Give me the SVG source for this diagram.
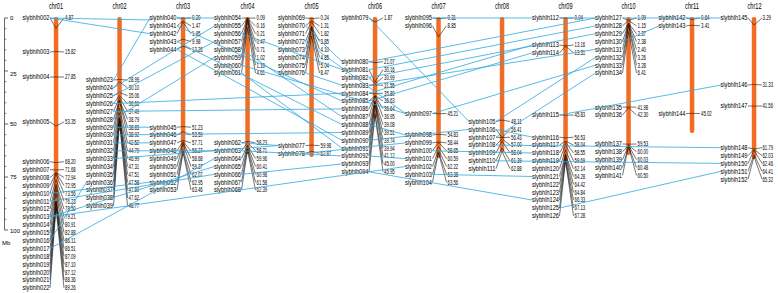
<svg xmlns="http://www.w3.org/2000/svg" width="778" height="293" viewBox="0 0 778 293">
<style>
text{font-family:"Liberation Sans",Arial,sans-serif;fill:#000}
.t{font-size:9px}
.n{font-size:6.5px;text-anchor:end}
.p{font-size:6.5px}
.a{font-size:6px}
.bar{fill:#F26C21}
.g{fill:none;stroke:#1a1a1a;stroke-width:0.6}
.c{fill:none;stroke:#2DA8E0;stroke-width:0.8}
</style>
<rect width="778" height="293" fill="#fff"/>
<g id="axis">
<path d="M4.5 18V230M4.5 18H8M4.5 71H8M4.5 124H8M4.5 177H8M4.5 230H8" stroke="#222" stroke-width="0.7" fill="none"/>
<path d="M4.5 28.6H6.5M4.5 39.2H6.5M4.5 49.8H6.5M4.5 60.4H6.5M4.5 81.6H6.5M4.5 92.2H6.5M4.5 102.8H6.5M4.5 113.4H6.5M4.5 134.6H6.5M4.5 145.2H6.5M4.5 155.8H6.5M4.5 166.4H6.5M4.5 187.6H6.5M4.5 198.2H6.5M4.5 208.8H6.5M4.5 219.4H6.5" stroke="#222" stroke-width="0.5" fill="none"/>
<text class="a" x="10" y="20">0</text>
<text class="a" x="10" y="76">25</text>
<text class="a" x="10" y="126">50</text>
<text class="a" x="10" y="179">75</text>
<text class="a" x="10" y="233">100</text>
<text class="a" x="2" y="245">Mb</text>
</g>
<g id="chr01">
<text class="t" x="49" y="8.5" textLength="14" lengthAdjust="spacingAndGlyphs">chr01</text>
<rect class="bar" x="53.8" y="17" width="4.5" height="194" rx="2"/>
<path class="g" d="M50 18L56 28.3L64 18M50 52L56 51.5L64 52M50 77L56 77L64 77M50 122L56 126L64 122M50 161.7L56 162.6L64 161.7M50 169.6L56 170L64 169.6M50 177.5L56 172.6L64 177.5M50 185.4L56 172.6L64 185.4M50 193.3L56 174L64 193.3M50 201.2L56 179.6L64 201.2M50 209L56 184.4L64 209M50 216.9L56 185.9L64 216.9M50 224.8L56 189.5L64 224.8M50 232.7L56 193.7L64 232.7M50 240.6L56 200.6L64 240.6M50 248.5L56 201.4L64 248.5M50 256.4L56 202.6L64 256.4M50 264.3L56 202.7L64 264.3M50 272.2L56 202.7L64 272.2M50 280.1L56 205.3L64 280.1M50 288L56 207.2L64 288"/>
<text class="n" x="49.5" y="20.3" textLength="27" lengthAdjust="spacingAndGlyphs">slybhlh002</text>
<text class="n" x="49.5" y="54.3" textLength="27" lengthAdjust="spacingAndGlyphs">slybhlh003</text>
<text class="n" x="49.5" y="79.3" textLength="27" lengthAdjust="spacingAndGlyphs">slybhlh004</text>
<text class="n" x="49.5" y="124.3" textLength="27" lengthAdjust="spacingAndGlyphs">slybhlh005</text>
<text class="n" x="49.5" y="164" textLength="27" lengthAdjust="spacingAndGlyphs">slybhlh006</text>
<text class="n" x="49.5" y="171.9" textLength="27" lengthAdjust="spacingAndGlyphs">slybhlh007</text>
<text class="n" x="49.5" y="179.8" textLength="27" lengthAdjust="spacingAndGlyphs">slybhlh008</text>
<text class="n" x="49.5" y="187.7" textLength="27" lengthAdjust="spacingAndGlyphs">slybhlh009</text>
<text class="n" x="49.5" y="195.6" textLength="27" lengthAdjust="spacingAndGlyphs">slybhlh010</text>
<text class="n" x="49.5" y="203.5" textLength="27" lengthAdjust="spacingAndGlyphs">slybhlh011</text>
<text class="n" x="49.5" y="211.3" textLength="27" lengthAdjust="spacingAndGlyphs">slybhlh012</text>
<text class="n" x="49.5" y="219.2" textLength="27" lengthAdjust="spacingAndGlyphs">slybhlh013</text>
<text class="n" x="49.5" y="227.1" textLength="27" lengthAdjust="spacingAndGlyphs">slybhlh014</text>
<text class="n" x="49.5" y="235" textLength="27" lengthAdjust="spacingAndGlyphs">slybhlh015</text>
<text class="n" x="49.5" y="242.9" textLength="27" lengthAdjust="spacingAndGlyphs">slybhlh016</text>
<text class="n" x="49.5" y="250.8" textLength="27" lengthAdjust="spacingAndGlyphs">slybhlh017</text>
<text class="n" x="49.5" y="258.7" textLength="27" lengthAdjust="spacingAndGlyphs">slybhlh018</text>
<text class="n" x="49.5" y="266.6" textLength="27" lengthAdjust="spacingAndGlyphs">slybhlh019</text>
<text class="n" x="49.5" y="274.5" textLength="27" lengthAdjust="spacingAndGlyphs">slybhlh020</text>
<text class="n" x="49.5" y="282.4" textLength="27" lengthAdjust="spacingAndGlyphs">slybhlh021</text>
<text class="n" x="49.5" y="290.3" textLength="27" lengthAdjust="spacingAndGlyphs">slybhlh022</text>
<text class="p" x="65" y="20.3" textLength="8.5" lengthAdjust="spacingAndGlyphs">4.87</text>
<text class="p" x="65" y="54.3" textLength="10.7" lengthAdjust="spacingAndGlyphs">15.82</text>
<text class="p" x="65" y="79.3" textLength="10.7" lengthAdjust="spacingAndGlyphs">27.85</text>
<text class="p" x="65" y="124.3" textLength="10.7" lengthAdjust="spacingAndGlyphs">53.35</text>
<text class="p" x="65" y="164" textLength="10.7" lengthAdjust="spacingAndGlyphs">68.20</text>
<text class="p" x="65" y="171.9" textLength="10.7" lengthAdjust="spacingAndGlyphs">71.68</text>
<text class="p" x="65" y="179.8" textLength="10.7" lengthAdjust="spacingAndGlyphs">72.94</text>
<text class="p" x="65" y="187.7" textLength="10.7" lengthAdjust="spacingAndGlyphs">72.95</text>
<text class="p" x="65" y="195.6" textLength="10.7" lengthAdjust="spacingAndGlyphs">73.56</text>
<text class="p" x="65" y="203.5" textLength="10.7" lengthAdjust="spacingAndGlyphs">76.23</text>
<text class="p" x="65" y="211.3" textLength="10.7" lengthAdjust="spacingAndGlyphs">78.50</text>
<text class="p" x="65" y="219.2" textLength="10.7" lengthAdjust="spacingAndGlyphs">79.21</text>
<text class="p" x="65" y="227.1" textLength="10.7" lengthAdjust="spacingAndGlyphs">80.91</text>
<text class="p" x="65" y="235" textLength="10.7" lengthAdjust="spacingAndGlyphs">82.88</text>
<text class="p" x="65" y="242.9" textLength="10.7" lengthAdjust="spacingAndGlyphs">86.11</text>
<text class="p" x="65" y="250.8" textLength="10.7" lengthAdjust="spacingAndGlyphs">86.51</text>
<text class="p" x="65" y="258.7" textLength="10.7" lengthAdjust="spacingAndGlyphs">87.09</text>
<text class="p" x="65" y="266.6" textLength="10.7" lengthAdjust="spacingAndGlyphs">87.10</text>
<text class="p" x="65" y="274.5" textLength="10.7" lengthAdjust="spacingAndGlyphs">87.12</text>
<text class="p" x="65" y="282.4" textLength="10.7" lengthAdjust="spacingAndGlyphs">88.36</text>
<text class="p" x="65" y="290.3" textLength="10.7" lengthAdjust="spacingAndGlyphs">89.26</text>
</g>
<g id="chr02">
<text class="t" x="112.5" y="8.5" textLength="14" lengthAdjust="spacingAndGlyphs">chr02</text>
<rect class="bar" x="117.3" y="17" width="4.5" height="114" rx="2"/>
<path class="g" d="M113.5 80L119.5 79.5L127.5 80M113.5 87.9L119.5 81.8L127.5 87.9M113.5 95.7L119.5 92.3L127.5 95.7M113.5 103.6L119.5 95.6L127.5 103.6M113.5 111.4L119.5 97.5L127.5 111.4M113.5 119.3L119.5 100.2L127.5 119.3M113.5 127.2L119.5 100.3L127.5 127.2M113.5 135L119.5 100.5L127.5 135M113.5 142.9L119.5 108.1L127.5 142.9M113.5 150.8L119.5 113L127.5 150.8M113.5 158.6L119.5 117.6L127.5 158.6M113.5 166.5L119.5 118.3L127.5 166.5M113.5 174.3L119.5 118.7L127.5 174.3M113.5 182.2L119.5 118.9L127.5 182.2M113.5 190L119.5 118.9L127.5 190M113.5 197.9L119.5 119L127.5 197.9M113.5 205.8L119.5 121.4L127.5 205.8"/>
<text class="n" x="113" y="82.3" textLength="27" lengthAdjust="spacingAndGlyphs">slybhlh023</text>
<text class="n" x="113" y="90.2" textLength="27" lengthAdjust="spacingAndGlyphs">slybhlh024</text>
<text class="n" x="113" y="98" textLength="27" lengthAdjust="spacingAndGlyphs">slybhlh025</text>
<text class="n" x="113" y="105.9" textLength="27" lengthAdjust="spacingAndGlyphs">slybhlh026</text>
<text class="n" x="113" y="113.7" textLength="27" lengthAdjust="spacingAndGlyphs">slybhlh027</text>
<text class="n" x="113" y="121.6" textLength="27" lengthAdjust="spacingAndGlyphs">slybhlh028</text>
<text class="n" x="113" y="129.5" textLength="27" lengthAdjust="spacingAndGlyphs">slybhlh029</text>
<text class="n" x="113" y="137.3" textLength="27" lengthAdjust="spacingAndGlyphs">slybhlh030</text>
<text class="n" x="113" y="145.2" textLength="27" lengthAdjust="spacingAndGlyphs">slybhlh031</text>
<text class="n" x="113" y="153.1" textLength="27" lengthAdjust="spacingAndGlyphs">slybhlh032</text>
<text class="n" x="113" y="160.9" textLength="27" lengthAdjust="spacingAndGlyphs">slybhlh033</text>
<text class="n" x="113" y="168.8" textLength="27" lengthAdjust="spacingAndGlyphs">slybhlh034</text>
<text class="n" x="113" y="176.6" textLength="27" lengthAdjust="spacingAndGlyphs">slybhlh035</text>
<text class="n" x="113" y="184.5" textLength="27" lengthAdjust="spacingAndGlyphs">slybhlh036</text>
<text class="n" x="113" y="192.3" textLength="27" lengthAdjust="spacingAndGlyphs">slybhlh037</text>
<text class="n" x="113" y="200.2" textLength="27" lengthAdjust="spacingAndGlyphs">slybhlh038</text>
<text class="n" x="113" y="208.1" textLength="27" lengthAdjust="spacingAndGlyphs">slybhlh039</text>
<text class="p" x="128.5" y="82.3" textLength="10.7" lengthAdjust="spacingAndGlyphs">28.99</text>
<text class="p" x="128.5" y="90.2" textLength="10.7" lengthAdjust="spacingAndGlyphs">30.10</text>
<text class="p" x="128.5" y="98" textLength="10.7" lengthAdjust="spacingAndGlyphs">35.06</text>
<text class="p" x="128.5" y="105.9" textLength="10.7" lengthAdjust="spacingAndGlyphs">36.61</text>
<text class="p" x="128.5" y="113.7" textLength="10.7" lengthAdjust="spacingAndGlyphs">37.49</text>
<text class="p" x="128.5" y="121.6" textLength="10.7" lengthAdjust="spacingAndGlyphs">38.79</text>
<text class="p" x="128.5" y="129.5" textLength="10.7" lengthAdjust="spacingAndGlyphs">38.83</text>
<text class="p" x="128.5" y="137.3" textLength="10.7" lengthAdjust="spacingAndGlyphs">38.92</text>
<text class="p" x="128.5" y="145.2" textLength="10.7" lengthAdjust="spacingAndGlyphs">42.52</text>
<text class="p" x="128.5" y="153.1" textLength="10.7" lengthAdjust="spacingAndGlyphs">44.79</text>
<text class="p" x="128.5" y="160.9" textLength="10.7" lengthAdjust="spacingAndGlyphs">46.99</text>
<text class="p" x="128.5" y="168.8" textLength="10.7" lengthAdjust="spacingAndGlyphs">47.31</text>
<text class="p" x="128.5" y="176.6" textLength="10.7" lengthAdjust="spacingAndGlyphs">47.51</text>
<text class="p" x="128.5" y="184.5" textLength="10.7" lengthAdjust="spacingAndGlyphs">47.58</text>
<text class="p" x="128.5" y="192.3" textLength="10.7" lengthAdjust="spacingAndGlyphs">47.60</text>
<text class="p" x="128.5" y="200.2" textLength="10.7" lengthAdjust="spacingAndGlyphs">47.62</text>
<text class="p" x="128.5" y="208.1" textLength="10.7" lengthAdjust="spacingAndGlyphs">48.77</text>
</g>
<g id="chr03">
<text class="t" x="176" y="8.5" textLength="14" lengthAdjust="spacingAndGlyphs">chr03</text>
<rect class="bar" x="180.8" y="17" width="4.5" height="137" rx="2"/>
<path class="g" d="M177 18L183 18.4L191 18M177 25.9L183 21.1L191 25.9M177 33.7L183 22.1L191 33.7M177 41.6L183 39.2L191 41.6M177 49.4L183 46.1L191 49.4M177 127.2L183 126.6L191 127.2M177 135L183 131.6L191 135M177 142.9L183 140.3L191 142.9M177 150.8L183 141.5L191 150.8M177 158.6L183 142.4L191 158.6M177 166.5L183 143.9L191 166.5M177 174.3L183 149.6L191 174.3M177 182.2L183 151.5L191 182.2M177 190L183 152.5L191 190"/>
<text class="n" x="176.5" y="20.3" textLength="27" lengthAdjust="spacingAndGlyphs">slybhlh040</text>
<text class="n" x="176.5" y="28.2" textLength="27" lengthAdjust="spacingAndGlyphs">slybhlh041</text>
<text class="n" x="176.5" y="36" textLength="27" lengthAdjust="spacingAndGlyphs">slybhlh042</text>
<text class="n" x="176.5" y="43.9" textLength="27" lengthAdjust="spacingAndGlyphs">slybhlh043</text>
<text class="n" x="176.5" y="51.7" textLength="27" lengthAdjust="spacingAndGlyphs">slybhlh044</text>
<text class="n" x="176.5" y="129.5" textLength="27" lengthAdjust="spacingAndGlyphs">slybhlh045</text>
<text class="n" x="176.5" y="137.3" textLength="27" lengthAdjust="spacingAndGlyphs">slybhlh046</text>
<text class="n" x="176.5" y="145.2" textLength="27" lengthAdjust="spacingAndGlyphs">slybhlh047</text>
<text class="n" x="176.5" y="153.1" textLength="27" lengthAdjust="spacingAndGlyphs">slybhlh048</text>
<text class="n" x="176.5" y="160.9" textLength="27" lengthAdjust="spacingAndGlyphs">slybhlh049</text>
<text class="n" x="176.5" y="168.8" textLength="27" lengthAdjust="spacingAndGlyphs">slybhlh050</text>
<text class="n" x="176.5" y="176.6" textLength="27" lengthAdjust="spacingAndGlyphs">slybhlh051</text>
<text class="n" x="176.5" y="184.5" textLength="27" lengthAdjust="spacingAndGlyphs">slybhlh052</text>
<text class="n" x="176.5" y="192.3" textLength="27" lengthAdjust="spacingAndGlyphs">slybhlh053</text>
<text class="p" x="192" y="20.3" textLength="8.5" lengthAdjust="spacingAndGlyphs">0.20</text>
<text class="p" x="192" y="28.2" textLength="8.5" lengthAdjust="spacingAndGlyphs">1.47</text>
<text class="p" x="192" y="36" textLength="8.5" lengthAdjust="spacingAndGlyphs">1.95</text>
<text class="p" x="192" y="43.9" textLength="8.5" lengthAdjust="spacingAndGlyphs">9.98</text>
<text class="p" x="192" y="51.7" textLength="10.7" lengthAdjust="spacingAndGlyphs">13.26</text>
<text class="p" x="192" y="129.5" textLength="10.7" lengthAdjust="spacingAndGlyphs">51.23</text>
<text class="p" x="192" y="137.3" textLength="10.7" lengthAdjust="spacingAndGlyphs">53.59</text>
<text class="p" x="192" y="145.2" textLength="10.7" lengthAdjust="spacingAndGlyphs">57.71</text>
<text class="p" x="192" y="153.1" textLength="10.7" lengthAdjust="spacingAndGlyphs">58.27</text>
<text class="p" x="192" y="160.9" textLength="10.7" lengthAdjust="spacingAndGlyphs">58.68</text>
<text class="p" x="192" y="168.8" textLength="10.7" lengthAdjust="spacingAndGlyphs">59.37</text>
<text class="p" x="192" y="176.6" textLength="10.7" lengthAdjust="spacingAndGlyphs">62.07</text>
<text class="p" x="192" y="184.5" textLength="10.7" lengthAdjust="spacingAndGlyphs">62.95</text>
<text class="p" x="192" y="192.3" textLength="10.7" lengthAdjust="spacingAndGlyphs">63.46</text>
</g>
<g id="chr04">
<text class="t" x="240.5" y="8.5" textLength="14" lengthAdjust="spacingAndGlyphs">chr04</text>
<rect class="bar" x="245.3" y="17" width="4.5" height="137" rx="2"/>
<path class="g" d="M241.5 18L247.5 18.2L255.5 18M241.5 25.9L247.5 18.3L255.5 25.9M241.5 33.7L247.5 18.4L255.5 33.7M241.5 41.6L247.5 19L255.5 41.6M241.5 49.4L247.5 19.5L255.5 49.4M241.5 57.3L247.5 20.2L255.5 57.3M241.5 65.2L247.5 20.3L255.5 65.2M241.5 73L247.5 27.8L255.5 73M241.5 142.9L247.5 141.4L255.5 142.9M241.5 150.8L247.5 142.5L255.5 150.8M241.5 158.6L247.5 145.1L255.5 158.6M241.5 166.5L247.5 146.1L255.5 166.5M241.5 174.3L247.5 147.3L255.5 174.3M241.5 182.2L247.5 148.5L255.5 182.2M241.5 190L247.5 150.3L255.5 190"/>
<text class="n" x="241" y="20.3" textLength="27" lengthAdjust="spacingAndGlyphs">slybhlh054</text>
<text class="n" x="241" y="28.2" textLength="27" lengthAdjust="spacingAndGlyphs">slybhlh055</text>
<text class="n" x="241" y="36" textLength="27" lengthAdjust="spacingAndGlyphs">slybhlh056</text>
<text class="n" x="241" y="43.9" textLength="27" lengthAdjust="spacingAndGlyphs">slybhlh057</text>
<text class="n" x="241" y="51.7" textLength="27" lengthAdjust="spacingAndGlyphs">slybhlh058</text>
<text class="n" x="241" y="59.6" textLength="27" lengthAdjust="spacingAndGlyphs">slybhlh059</text>
<text class="n" x="241" y="67.5" textLength="27" lengthAdjust="spacingAndGlyphs">slybhlh060</text>
<text class="n" x="241" y="75.3" textLength="27" lengthAdjust="spacingAndGlyphs">slybhlh061</text>
<text class="n" x="241" y="145.2" textLength="27" lengthAdjust="spacingAndGlyphs">slybhlh062</text>
<text class="n" x="241" y="153.1" textLength="27" lengthAdjust="spacingAndGlyphs">slybhlh063</text>
<text class="n" x="241" y="160.9" textLength="27" lengthAdjust="spacingAndGlyphs">slybhlh064</text>
<text class="n" x="241" y="168.8" textLength="27" lengthAdjust="spacingAndGlyphs">slybhlh065</text>
<text class="n" x="241" y="176.6" textLength="27" lengthAdjust="spacingAndGlyphs">slybhlh066</text>
<text class="n" x="241" y="184.5" textLength="27" lengthAdjust="spacingAndGlyphs">slybhlh067</text>
<text class="n" x="241" y="192.3" textLength="27" lengthAdjust="spacingAndGlyphs">slybhlh068</text>
<text class="p" x="256.5" y="20.3" textLength="8.5" lengthAdjust="spacingAndGlyphs">0.09</text>
<text class="p" x="256.5" y="28.2" textLength="8.5" lengthAdjust="spacingAndGlyphs">0.16</text>
<text class="p" x="256.5" y="36" textLength="8.5" lengthAdjust="spacingAndGlyphs">0.21</text>
<text class="p" x="256.5" y="43.9" textLength="8.5" lengthAdjust="spacingAndGlyphs">0.47</text>
<text class="p" x="256.5" y="51.7" textLength="8.5" lengthAdjust="spacingAndGlyphs">0.71</text>
<text class="p" x="256.5" y="59.6" textLength="8.5" lengthAdjust="spacingAndGlyphs">1.02</text>
<text class="p" x="256.5" y="67.5" textLength="8.5" lengthAdjust="spacingAndGlyphs">1.10</text>
<text class="p" x="256.5" y="75.3" textLength="8.5" lengthAdjust="spacingAndGlyphs">4.61</text>
<text class="p" x="256.5" y="145.2" textLength="10.7" lengthAdjust="spacingAndGlyphs">58.23</text>
<text class="p" x="256.5" y="153.1" textLength="10.7" lengthAdjust="spacingAndGlyphs">58.71</text>
<text class="p" x="256.5" y="160.9" textLength="10.7" lengthAdjust="spacingAndGlyphs">59.96</text>
<text class="p" x="256.5" y="168.8" textLength="10.7" lengthAdjust="spacingAndGlyphs">60.41</text>
<text class="p" x="256.5" y="176.6" textLength="10.7" lengthAdjust="spacingAndGlyphs">60.98</text>
<text class="p" x="256.5" y="184.5" textLength="10.7" lengthAdjust="spacingAndGlyphs">61.58</text>
<text class="p" x="256.5" y="192.3" textLength="10.7" lengthAdjust="spacingAndGlyphs">62.39</text>
</g>
<g id="chr05">
<text class="t" x="304.5" y="8.5" textLength="14" lengthAdjust="spacingAndGlyphs">chr05</text>
<rect class="bar" x="309.3" y="17" width="4.5" height="140" rx="2"/>
<path class="g" d="M305.5 18L311.5 18.5L319.5 18M305.5 25.9L311.5 20.8L319.5 25.9M305.5 33.7L311.5 21.9L319.5 33.7M305.5 41.6L311.5 26.2L319.5 41.6M305.5 49.4L311.5 26.7L319.5 49.4M305.5 57.3L311.5 28.3L319.5 57.3M305.5 65.2L311.5 28.7L319.5 65.2M305.5 73L311.5 36L319.5 73M305.5 145.5L311.5 145.2L319.5 145.5M305.5 153.3L311.5 151.3L319.5 153.3"/>
<text class="n" x="305" y="20.3" textLength="27" lengthAdjust="spacingAndGlyphs">slybhlh069</text>
<text class="n" x="305" y="28.2" textLength="27" lengthAdjust="spacingAndGlyphs">slybhlh070</text>
<text class="n" x="305" y="36" textLength="27" lengthAdjust="spacingAndGlyphs">slybhlh071</text>
<text class="n" x="305" y="43.9" textLength="27" lengthAdjust="spacingAndGlyphs">slybhlh072</text>
<text class="n" x="305" y="51.7" textLength="27" lengthAdjust="spacingAndGlyphs">slybhlh073</text>
<text class="n" x="305" y="59.6" textLength="27" lengthAdjust="spacingAndGlyphs">slybhlh074</text>
<text class="n" x="305" y="67.5" textLength="27" lengthAdjust="spacingAndGlyphs">slybhlh075</text>
<text class="n" x="305" y="75.3" textLength="27" lengthAdjust="spacingAndGlyphs">slybhlh076</text>
<text class="n" x="305" y="147.8" textLength="27" lengthAdjust="spacingAndGlyphs">slybhlh077</text>
<text class="n" x="305" y="155.6" textLength="27" lengthAdjust="spacingAndGlyphs">slybhlh078</text>
<text class="p" x="320.5" y="20.3" textLength="8.5" lengthAdjust="spacingAndGlyphs">0.24</text>
<text class="p" x="320.5" y="28.2" textLength="8.5" lengthAdjust="spacingAndGlyphs">1.31</text>
<text class="p" x="320.5" y="36" textLength="8.5" lengthAdjust="spacingAndGlyphs">1.82</text>
<text class="p" x="320.5" y="43.9" textLength="8.5" lengthAdjust="spacingAndGlyphs">3.85</text>
<text class="p" x="320.5" y="51.7" textLength="8.5" lengthAdjust="spacingAndGlyphs">4.10</text>
<text class="p" x="320.5" y="59.6" textLength="8.5" lengthAdjust="spacingAndGlyphs">4.85</text>
<text class="p" x="320.5" y="67.5" textLength="8.5" lengthAdjust="spacingAndGlyphs">5.04</text>
<text class="p" x="320.5" y="75.3" textLength="8.5" lengthAdjust="spacingAndGlyphs">8.47</text>
<text class="p" x="320.5" y="147.8" textLength="10.7" lengthAdjust="spacingAndGlyphs">59.98</text>
<text class="p" x="320.5" y="155.6" textLength="10.7" lengthAdjust="spacingAndGlyphs">62.87</text>
</g>
<g id="chr06">
<text class="t" x="368" y="8.5" textLength="14" lengthAdjust="spacingAndGlyphs">chr06</text>
<rect class="bar" x="372.8" y="17" width="4.5" height="101" rx="2"/>
<path class="g" d="M369 18L375 22L383 18M369 61.7L375 62.7L383 61.7M369 69.6L375 82L383 69.6M369 77.4L375 83.7L383 77.4M369 85.3L375 84.9L383 85.3M369 93.2L375 93.9L383 93.2M369 101L375 95.7L383 101M369 108.9L375 95.7L383 108.9M369 116.8L375 96.3L383 116.8M369 124.6L375 100.8L383 124.6M369 132.5L375 101.8L383 132.5M369 140.3L375 102.2L383 140.3M369 148.2L375 102.7L383 148.2M369 156L375 105.2L383 156M369 163.9L375 113.4L383 163.9M369 171.8L375 115.4L383 171.8"/>
<text class="n" x="368.5" y="20.3" textLength="27" lengthAdjust="spacingAndGlyphs">slybhlh079</text>
<text class="n" x="368.5" y="64" textLength="27" lengthAdjust="spacingAndGlyphs">slybhlh080</text>
<text class="n" x="368.5" y="71.9" textLength="27" lengthAdjust="spacingAndGlyphs">slybhlh081</text>
<text class="n" x="368.5" y="79.7" textLength="27" lengthAdjust="spacingAndGlyphs">slybhlh082</text>
<text class="n" x="368.5" y="87.6" textLength="27" lengthAdjust="spacingAndGlyphs">slybhlh083</text>
<text class="n" x="368.5" y="95.5" textLength="27" lengthAdjust="spacingAndGlyphs">slybhlh084</text>
<text class="n" x="368.5" y="103.3" textLength="27" lengthAdjust="spacingAndGlyphs">slybhlh085</text>
<text class="n" x="368.5" y="111.2" textLength="27" lengthAdjust="spacingAndGlyphs">slybhlh086</text>
<text class="n" x="368.5" y="119.1" textLength="27" lengthAdjust="spacingAndGlyphs">slybhlh087</text>
<text class="n" x="368.5" y="126.9" textLength="27" lengthAdjust="spacingAndGlyphs">slybhlh088</text>
<text class="n" x="368.5" y="134.8" textLength="27" lengthAdjust="spacingAndGlyphs">slybhlh089</text>
<text class="n" x="368.5" y="142.6" textLength="27" lengthAdjust="spacingAndGlyphs">slybhlh090</text>
<text class="n" x="368.5" y="150.5" textLength="27" lengthAdjust="spacingAndGlyphs">slybhlh091</text>
<text class="n" x="368.5" y="158.3" textLength="27" lengthAdjust="spacingAndGlyphs">slybhlh092</text>
<text class="n" x="368.5" y="166.2" textLength="27" lengthAdjust="spacingAndGlyphs">slybhlh093</text>
<text class="n" x="368.5" y="174.1" textLength="27" lengthAdjust="spacingAndGlyphs">slybhlh094</text>
<text class="p" x="384" y="20.3" textLength="8.5" lengthAdjust="spacingAndGlyphs">1.87</text>
<text class="p" x="384" y="64" textLength="10.7" lengthAdjust="spacingAndGlyphs">21.07</text>
<text class="p" x="384" y="71.9" textLength="10.7" lengthAdjust="spacingAndGlyphs">30.16</text>
<text class="p" x="384" y="79.7" textLength="10.7" lengthAdjust="spacingAndGlyphs">30.99</text>
<text class="p" x="384" y="87.6" textLength="10.7" lengthAdjust="spacingAndGlyphs">31.55</text>
<text class="p" x="384" y="95.5" textLength="10.7" lengthAdjust="spacingAndGlyphs">35.80</text>
<text class="p" x="384" y="103.3" textLength="10.7" lengthAdjust="spacingAndGlyphs">36.63</text>
<text class="p" x="384" y="111.2" textLength="10.7" lengthAdjust="spacingAndGlyphs">36.64</text>
<text class="p" x="384" y="119.1" textLength="10.7" lengthAdjust="spacingAndGlyphs">36.95</text>
<text class="p" x="384" y="126.9" textLength="10.7" lengthAdjust="spacingAndGlyphs">39.08</text>
<text class="p" x="384" y="134.8" textLength="10.7" lengthAdjust="spacingAndGlyphs">39.51</text>
<text class="p" x="384" y="142.6" textLength="10.7" lengthAdjust="spacingAndGlyphs">39.74</text>
<text class="p" x="384" y="150.5" textLength="10.7" lengthAdjust="spacingAndGlyphs">39.94</text>
<text class="p" x="384" y="158.3" textLength="10.7" lengthAdjust="spacingAndGlyphs">41.12</text>
<text class="p" x="384" y="166.2" textLength="10.7" lengthAdjust="spacingAndGlyphs">45.00</text>
<text class="p" x="384" y="174.1" textLength="10.7" lengthAdjust="spacingAndGlyphs">45.95</text>
</g>
<g id="chr07">
<text class="t" x="431.5" y="8.5" textLength="14" lengthAdjust="spacingAndGlyphs">chr07</text>
<rect class="bar" x="436.3" y="17" width="4.5" height="141" rx="2"/>
<path class="g" d="M432.5 18L438.5 18.7L446.5 18M432.5 25.9L438.5 36.8L446.5 25.9M432.5 113.5L438.5 113.8L446.5 113.5M432.5 135L438.5 134.2L446.5 135M432.5 142.9L438.5 141.9L446.5 142.9M432.5 150.8L438.5 142.3L446.5 150.8M432.5 158.6L438.5 146.5L446.5 158.6M432.5 166.5L438.5 149.9L446.5 166.5M432.5 174.3L438.5 152.4L446.5 174.3M432.5 182.2L438.5 152.8L446.5 182.2"/>
<text class="n" x="432" y="20.3" textLength="27" lengthAdjust="spacingAndGlyphs">slybhlh095</text>
<text class="n" x="432" y="28.2" textLength="27" lengthAdjust="spacingAndGlyphs">slybhlh096</text>
<text class="n" x="432" y="115.8" textLength="27" lengthAdjust="spacingAndGlyphs">slybhlh097</text>
<text class="n" x="432" y="137.3" textLength="27" lengthAdjust="spacingAndGlyphs">slybhlh098</text>
<text class="n" x="432" y="145.2" textLength="27" lengthAdjust="spacingAndGlyphs">slybhlh099</text>
<text class="n" x="432" y="153.1" textLength="27" lengthAdjust="spacingAndGlyphs">slybhlh100</text>
<text class="n" x="432" y="160.9" textLength="27" lengthAdjust="spacingAndGlyphs">slybhlh101</text>
<text class="n" x="432" y="168.8" textLength="27" lengthAdjust="spacingAndGlyphs">slybhlh102</text>
<text class="n" x="432" y="176.6" textLength="27" lengthAdjust="spacingAndGlyphs">slybhlh103</text>
<text class="n" x="432" y="184.5" textLength="27" lengthAdjust="spacingAndGlyphs">slybhlh104</text>
<text class="p" x="447.5" y="20.3" textLength="8.5" lengthAdjust="spacingAndGlyphs">0.31</text>
<text class="p" x="447.5" y="28.2" textLength="8.5" lengthAdjust="spacingAndGlyphs">8.85</text>
<text class="p" x="447.5" y="115.8" textLength="10.7" lengthAdjust="spacingAndGlyphs">45.21</text>
<text class="p" x="447.5" y="137.3" textLength="10.7" lengthAdjust="spacingAndGlyphs">54.83</text>
<text class="p" x="447.5" y="145.2" textLength="10.7" lengthAdjust="spacingAndGlyphs">58.44</text>
<text class="p" x="447.5" y="153.1" textLength="10.7" lengthAdjust="spacingAndGlyphs">58.65</text>
<text class="p" x="447.5" y="160.9" textLength="10.7" lengthAdjust="spacingAndGlyphs">60.59</text>
<text class="p" x="447.5" y="168.8" textLength="10.7" lengthAdjust="spacingAndGlyphs">62.22</text>
<text class="p" x="447.5" y="176.6" textLength="10.7" lengthAdjust="spacingAndGlyphs">63.38</text>
<text class="p" x="447.5" y="184.5" textLength="10.7" lengthAdjust="spacingAndGlyphs">63.56</text>
</g>
<g id="chr08">
<text class="t" x="495" y="8.5" textLength="14" lengthAdjust="spacingAndGlyphs">chr08</text>
<rect class="bar" x="499.8" y="17" width="4.5" height="135" rx="2"/>
<path class="g" d="M496 121.5L502 120L510 121.5M496 129.4L502 137.6L510 129.4M496 137.2L502 137.6L510 137.2M496 145.1L502 138.8L510 145.1M496 153L502 141L510 153M496 160.8L502 148.1L510 160.8M496 168.7L502 151.3L510 168.7"/>
<text class="n" x="495.5" y="123.8" textLength="27" lengthAdjust="spacingAndGlyphs">slybhlh105</text>
<text class="n" x="495.5" y="131.7" textLength="27" lengthAdjust="spacingAndGlyphs">slybhlh106</text>
<text class="n" x="495.5" y="139.5" textLength="27" lengthAdjust="spacingAndGlyphs">slybhlh107</text>
<text class="n" x="495.5" y="147.4" textLength="27" lengthAdjust="spacingAndGlyphs">slybhlh108</text>
<text class="n" x="495.5" y="155.3" textLength="27" lengthAdjust="spacingAndGlyphs">slybhlh109</text>
<text class="n" x="495.5" y="163.1" textLength="27" lengthAdjust="spacingAndGlyphs">slybhlh110</text>
<text class="n" x="495.5" y="171" textLength="27" lengthAdjust="spacingAndGlyphs">slybhlh111</text>
<text class="p" x="511" y="123.8" textLength="10.7" lengthAdjust="spacingAndGlyphs">48.11</text>
<text class="p" x="511" y="131.7" textLength="10.7" lengthAdjust="spacingAndGlyphs">56.41</text>
<text class="p" x="511" y="139.5" textLength="10.7" lengthAdjust="spacingAndGlyphs">56.43</text>
<text class="p" x="511" y="147.4" textLength="10.7" lengthAdjust="spacingAndGlyphs">57.00</text>
<text class="p" x="511" y="155.3" textLength="10.7" lengthAdjust="spacingAndGlyphs">58.04</text>
<text class="p" x="511" y="163.1" textLength="10.7" lengthAdjust="spacingAndGlyphs">61.39</text>
<text class="p" x="511" y="171" textLength="10.7" lengthAdjust="spacingAndGlyphs">62.88</text>
</g>
<g id="chr09">
<text class="t" x="558.5" y="8.5" textLength="14" lengthAdjust="spacingAndGlyphs">chr09</text>
<rect class="bar" x="563.3" y="17" width="4.5" height="145" rx="2"/>
<path class="g" d="M559.5 18L565.5 18.1L573.5 18M559.5 45L565.5 45.9L573.5 45M559.5 52.8L565.5 46.2L573.5 52.8M559.5 115L565.5 115.2L573.5 115M559.5 137.2L565.5 137.8L573.5 137.2M559.5 145.1L565.5 141L573.5 145.1M559.5 153L565.5 142.1L573.5 153M559.5 160.8L565.5 144.5L573.5 160.8M559.5 168.7L565.5 149.7L573.5 168.7M559.5 176.5L565.5 154.3L573.5 176.5M559.5 184.4L565.5 154.6L573.5 184.4M559.5 192.3L565.5 155.5L573.5 192.3M559.5 200.1L565.5 158.6L573.5 200.1M559.5 208L565.5 160.3L573.5 208M559.5 215.8L565.5 160.6L573.5 215.8"/>
<text class="n" x="559" y="20.3" textLength="27" lengthAdjust="spacingAndGlyphs">slybhlh112</text>
<text class="n" x="559" y="47.3" textLength="27" lengthAdjust="spacingAndGlyphs">slybhlh113</text>
<text class="n" x="559" y="55.1" textLength="27" lengthAdjust="spacingAndGlyphs">slybhlh114</text>
<text class="n" x="559" y="117.3" textLength="27" lengthAdjust="spacingAndGlyphs">slybhlh115</text>
<text class="n" x="559" y="139.5" textLength="27" lengthAdjust="spacingAndGlyphs">slybhlh116</text>
<text class="n" x="559" y="147.4" textLength="27" lengthAdjust="spacingAndGlyphs">slybhlh117</text>
<text class="n" x="559" y="155.3" textLength="27" lengthAdjust="spacingAndGlyphs">slybhlh118</text>
<text class="n" x="559" y="163.1" textLength="27" lengthAdjust="spacingAndGlyphs">slybhlh119</text>
<text class="n" x="559" y="171" textLength="27" lengthAdjust="spacingAndGlyphs">slybhlh120</text>
<text class="n" x="559" y="178.8" textLength="27" lengthAdjust="spacingAndGlyphs">slybhlh121</text>
<text class="n" x="559" y="186.7" textLength="27" lengthAdjust="spacingAndGlyphs">slybhlh122</text>
<text class="n" x="559" y="194.6" textLength="27" lengthAdjust="spacingAndGlyphs">slybhlh123</text>
<text class="n" x="559" y="202.4" textLength="27" lengthAdjust="spacingAndGlyphs">slybhlh124</text>
<text class="n" x="559" y="210.3" textLength="27" lengthAdjust="spacingAndGlyphs">slybhlh125</text>
<text class="n" x="559" y="218.1" textLength="27" lengthAdjust="spacingAndGlyphs">slybhlh126</text>
<text class="p" x="574.5" y="20.3" textLength="8.5" lengthAdjust="spacingAndGlyphs">0.04</text>
<text class="p" x="574.5" y="47.3" textLength="10.7" lengthAdjust="spacingAndGlyphs">13.16</text>
<text class="p" x="574.5" y="55.1" textLength="10.7" lengthAdjust="spacingAndGlyphs">13.31</text>
<text class="p" x="574.5" y="117.3" textLength="10.7" lengthAdjust="spacingAndGlyphs">45.83</text>
<text class="p" x="574.5" y="139.5" textLength="10.7" lengthAdjust="spacingAndGlyphs">56.53</text>
<text class="p" x="574.5" y="147.4" textLength="10.7" lengthAdjust="spacingAndGlyphs">58.04</text>
<text class="p" x="574.5" y="155.3" textLength="10.7" lengthAdjust="spacingAndGlyphs">58.55</text>
<text class="p" x="574.5" y="163.1" textLength="10.7" lengthAdjust="spacingAndGlyphs">59.69</text>
<text class="p" x="574.5" y="171" textLength="10.7" lengthAdjust="spacingAndGlyphs">62.14</text>
<text class="p" x="574.5" y="178.8" textLength="10.7" lengthAdjust="spacingAndGlyphs">64.28</text>
<text class="p" x="574.5" y="186.7" textLength="10.7" lengthAdjust="spacingAndGlyphs">64.42</text>
<text class="p" x="574.5" y="194.6" textLength="10.7" lengthAdjust="spacingAndGlyphs">64.84</text>
<text class="p" x="574.5" y="202.4" textLength="10.7" lengthAdjust="spacingAndGlyphs">66.33</text>
<text class="p" x="574.5" y="210.3" textLength="10.7" lengthAdjust="spacingAndGlyphs">67.13</text>
<text class="p" x="574.5" y="218.1" textLength="10.7" lengthAdjust="spacingAndGlyphs">67.28</text>
</g>
<g id="chr10">
<text class="t" x="621.5" y="8.5" textLength="14" lengthAdjust="spacingAndGlyphs">chr10</text>
<rect class="bar" x="626.3" y="17" width="4.5" height="138" rx="2"/>
<path class="g" d="M622.5 18L628.5 20.3L636.5 18M622.5 25.9L628.5 20.4L636.5 25.9M622.5 33.7L628.5 23L636.5 33.7M622.5 41.6L628.5 23L636.5 41.6M622.5 49.4L628.5 23.1L636.5 49.4M622.5 57.3L628.5 24.9L636.5 57.3M622.5 65.2L628.5 25L636.5 65.2M622.5 73L628.5 31.6L636.5 73M622.5 107.2L628.5 107L636.5 107.2M622.5 115L628.5 107.7L636.5 115M622.5 144L628.5 144.2L636.5 144M622.5 151.8L628.5 145.2L636.5 151.8M622.5 159.7L628.5 145.3L636.5 159.7M622.5 167.5L628.5 146.2L636.5 167.5M622.5 175.4L628.5 146.3L636.5 175.4"/>
<text class="n" x="622" y="20.3" textLength="27" lengthAdjust="spacingAndGlyphs">slybhlh127</text>
<text class="n" x="622" y="28.2" textLength="27" lengthAdjust="spacingAndGlyphs">slybhlh128</text>
<text class="n" x="622" y="36" textLength="27" lengthAdjust="spacingAndGlyphs">slybhlh129</text>
<text class="n" x="622" y="43.9" textLength="27" lengthAdjust="spacingAndGlyphs">slybhlh130</text>
<text class="n" x="622" y="51.7" textLength="27" lengthAdjust="spacingAndGlyphs">slybhlh131</text>
<text class="n" x="622" y="59.6" textLength="27" lengthAdjust="spacingAndGlyphs">slybhlh132</text>
<text class="n" x="622" y="67.5" textLength="27" lengthAdjust="spacingAndGlyphs">slybhlh133</text>
<text class="n" x="622" y="75.3" textLength="27" lengthAdjust="spacingAndGlyphs">slybhlh134</text>
<text class="n" x="622" y="109.5" textLength="27" lengthAdjust="spacingAndGlyphs">slybhlh135</text>
<text class="n" x="622" y="117.3" textLength="27" lengthAdjust="spacingAndGlyphs">slybhlh136</text>
<text class="n" x="622" y="146.3" textLength="27" lengthAdjust="spacingAndGlyphs">slybhlh137</text>
<text class="n" x="622" y="154.1" textLength="27" lengthAdjust="spacingAndGlyphs">slybhlh138</text>
<text class="n" x="622" y="162" textLength="27" lengthAdjust="spacingAndGlyphs">slybhlh139</text>
<text class="n" x="622" y="169.8" textLength="27" lengthAdjust="spacingAndGlyphs">slybhlh140</text>
<text class="n" x="622" y="177.7" textLength="27" lengthAdjust="spacingAndGlyphs">slybhlh141</text>
<text class="p" x="637.5" y="20.3" textLength="8.5" lengthAdjust="spacingAndGlyphs">1.09</text>
<text class="p" x="637.5" y="28.2" textLength="8.5" lengthAdjust="spacingAndGlyphs">1.15</text>
<text class="p" x="637.5" y="36" textLength="8.5" lengthAdjust="spacingAndGlyphs">2.37</text>
<text class="p" x="637.5" y="43.9" textLength="8.5" lengthAdjust="spacingAndGlyphs">2.38</text>
<text class="p" x="637.5" y="51.7" textLength="8.5" lengthAdjust="spacingAndGlyphs">2.40</text>
<text class="p" x="637.5" y="59.6" textLength="8.5" lengthAdjust="spacingAndGlyphs">3.26</text>
<text class="p" x="637.5" y="67.5" textLength="8.5" lengthAdjust="spacingAndGlyphs">3.28</text>
<text class="p" x="637.5" y="75.3" textLength="8.5" lengthAdjust="spacingAndGlyphs">6.41</text>
<text class="p" x="637.5" y="109.5" textLength="10.7" lengthAdjust="spacingAndGlyphs">41.98</text>
<text class="p" x="637.5" y="117.3" textLength="10.7" lengthAdjust="spacingAndGlyphs">42.30</text>
<text class="p" x="637.5" y="146.3" textLength="10.7" lengthAdjust="spacingAndGlyphs">59.53</text>
<text class="p" x="637.5" y="154.1" textLength="10.7" lengthAdjust="spacingAndGlyphs">60.00</text>
<text class="p" x="637.5" y="162" textLength="10.7" lengthAdjust="spacingAndGlyphs">60.03</text>
<text class="p" x="637.5" y="169.8" textLength="10.7" lengthAdjust="spacingAndGlyphs">60.48</text>
<text class="p" x="637.5" y="177.7" textLength="10.7" lengthAdjust="spacingAndGlyphs">60.50</text>
</g>
<g id="chr11">
<text class="t" x="685" y="8.5" textLength="14" lengthAdjust="spacingAndGlyphs">chr11</text>
<rect class="bar" x="689.8" y="17" width="4.5" height="116" rx="2"/>
<path class="g" d="M686 18L692 19.4L700 18M686 25.9L692 25.2L700 25.9M686 113.5L692 113.4L700 113.5"/>
<text class="n" x="685.5" y="20.3" textLength="27" lengthAdjust="spacingAndGlyphs">slybhlh142</text>
<text class="n" x="685.5" y="28.2" textLength="27" lengthAdjust="spacingAndGlyphs">slybhlh143</text>
<text class="n" x="685.5" y="115.8" textLength="27" lengthAdjust="spacingAndGlyphs">slybhlh144</text>
<text class="p" x="701" y="20.3" textLength="8.5" lengthAdjust="spacingAndGlyphs">0.64</text>
<text class="p" x="701" y="28.2" textLength="8.5" lengthAdjust="spacingAndGlyphs">3.41</text>
<text class="p" x="701" y="115.8" textLength="10.7" lengthAdjust="spacingAndGlyphs">45.02</text>
</g>
<g id="chr12">
<text class="t" x="747.5" y="8.5" textLength="14" lengthAdjust="spacingAndGlyphs">chr12</text>
<rect class="bar" x="751.8" y="17" width="4.5" height="142" rx="2"/>
<path class="g" d="M748 18L754 25L762 18M748 85L754 84.4L762 85M748 106L754 106.1L762 106M748 147.7L754 149L762 147.7M748 155.6L754 149.5L762 155.6M748 163.4L754 150.4L762 163.4M748 171.3L754 154.5L762 171.3M748 179.2L754 156.5L762 179.2"/>
<text class="n" x="747.5" y="20.3" textLength="27" lengthAdjust="spacingAndGlyphs">slybhlh145</text>
<text class="n" x="747.5" y="87.3" textLength="27" lengthAdjust="spacingAndGlyphs">slybhlh146</text>
<text class="n" x="747.5" y="108.3" textLength="27" lengthAdjust="spacingAndGlyphs">slybhlh147</text>
<text class="n" x="747.5" y="150" textLength="27" lengthAdjust="spacingAndGlyphs">slybhlh148</text>
<text class="n" x="747.5" y="157.9" textLength="27" lengthAdjust="spacingAndGlyphs">slybhlh149</text>
<text class="n" x="747.5" y="165.7" textLength="27" lengthAdjust="spacingAndGlyphs">slybhlh150</text>
<text class="n" x="747.5" y="173.6" textLength="27" lengthAdjust="spacingAndGlyphs">slybhlh151</text>
<text class="n" x="747.5" y="181.5" textLength="27" lengthAdjust="spacingAndGlyphs">slybhlh152</text>
<text class="p" x="762.5" y="20.3" textLength="8.5" lengthAdjust="spacingAndGlyphs">3.29</text>
<text class="p" x="762.5" y="87.3" textLength="10.5" lengthAdjust="spacingAndGlyphs">31.33</text>
<text class="p" x="762.5" y="108.3" textLength="10.5" lengthAdjust="spacingAndGlyphs">41.56</text>
<text class="p" x="762.5" y="150" textLength="10.5" lengthAdjust="spacingAndGlyphs">61.79</text>
<text class="p" x="762.5" y="157.9" textLength="10.5" lengthAdjust="spacingAndGlyphs">62.03</text>
<text class="p" x="762.5" y="165.7" textLength="10.5" lengthAdjust="spacingAndGlyphs">62.46</text>
<text class="p" x="762.5" y="173.6" textLength="10.5" lengthAdjust="spacingAndGlyphs">64.41</text>
<text class="p" x="762.5" y="181.5" textLength="10.5" lengthAdjust="spacingAndGlyphs">65.32</text>
</g>
<g id="connectors">
<path class="c" d="M50 18L150 20M50 18L150 33.7M50 193.3L150 182.2M50 201.2L214.5 174.3M50 216.9L214.5 166.5M50 216.9L405.5 166.5M50 240.6L86.5 182.2M50 248.5L214.5 158.6"/>
<path class="c" d="M113.5 80L150 18M177 18L214.5 18M113.5 87.9L214.5 25.9M113.5 95.7L214.5 41.6M113.5 103.6L342 93.2M113.5 111.4L342 108.9M113.5 119.3L214.5 57.3M113.5 127.2L150 127.2M113.5 135L342 132.5M113.5 142.9L150 142.9M113.5 150.8L214.5 150.8M113.5 158.6L278.5 145.5"/>
<path class="c" d="M177 25.9L342 101M177 41.6L342 124.6M177 49.4L342 140.3M241.5 33.7L342 69.6M241.5 49.4L342 116.8M241.5 65.2L405.5 113.5M241.5 73L342 148.2M241.5 142.9L278.5 145.5M241.5 150.8L342 156M241.5 174.3L342 163.9"/>
<path class="c" d="M305.5 25.9L342 61.7M305.5 41.6L405.5 113.5M305.5 73L342 85.3M305.5 153.3L405.5 142.9"/>
<path class="c" d="M369 18L469 121.5M369 61.7L595.5 18M369 69.6L595.5 25.9M369 77.4L595.5 33.7M369 85.3L595.5 49.4M369 93.2L532.5 45M369 101L532.5 52.8M369 124.6L405.5 135M369 140.3L469 129.4M369 156L405.5 158.6M369 171.8L532.5 200.1"/>
<path class="c" d="M432.5 18L532.5 18M432.5 113.5L595.5 65.2M432.5 150.8L532.5 153M432.5 174.3L532.5 176.5M496 121.5L595.5 57.3M496 137.2L595.5 73M496 145.1L721 147.7M496 160.8L721 163.4M496 129.4L532.5 137.2"/>
<path class="c" d="M559.5 18L595.5 18M559.5 115L721 85M559.5 208L721 171.3M622.5 18L721 18M622.5 41.6L659 25.9"/>
</g>
</svg>
